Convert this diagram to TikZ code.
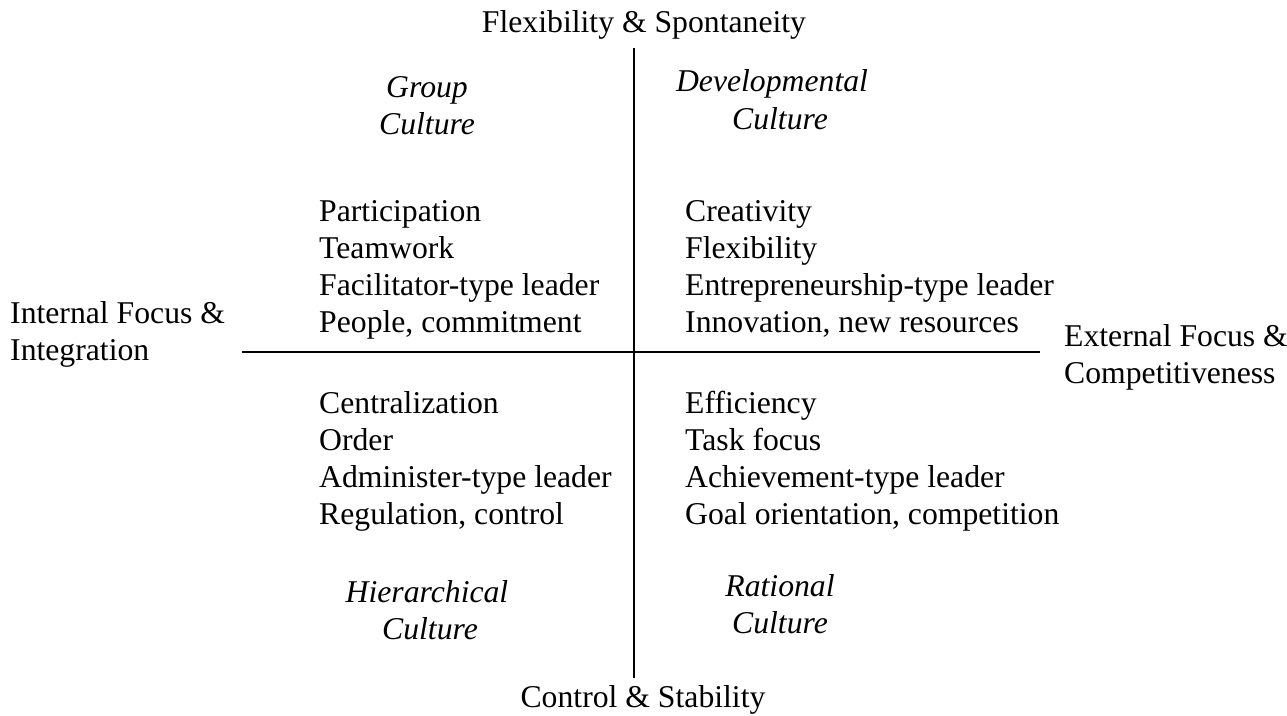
\documentclass[tikz,border=0pt]{standalone}
\usepackage{fontspec}
\setmainfont{Liberation Serif}
\begin{document}
\begin{tikzpicture}[x=1pt,y=-1pt,
  lbl/.style={inner sep=0pt,font=\fontsize{31.7}{37}\selectfont},
  item/.style={lbl,anchor=base west},
  axis/.style={lbl,anchor=base},
  culture/.style={lbl,anchor=base,font=\fontsize{31.7}{37}\selectfont\itshape},
  vaxis/.style={line width=1.8pt},
  haxis/.style={line width=2.6pt}]
\useasboundingbox (0,0) rectangle (1287,715);

% axes
\coordinate (top) at (634,48);
\coordinate (bottom) at (634,678);
\coordinate (left) at (242,352);
\coordinate (right) at (1040,352);
\draw[vaxis] (top) -- (bottom);
\draw[haxis] (left) -- (right);

% axis labels
\node[axis] (flex) at (644,32) {Flexibility \& Spontaneity};
\node[axis] (ctrl) at (643,707) {Control \& Stability};
\node[item] (int1) at (10,323) {Internal Focus \&};
\node[item] (int2) at (10,360) {Integration};
\node[item] (ext1) at (1064,346) {External Focus \&};
\node[item] (ext2) at (1064,383) {Competitiveness};

% culture names
\node[culture] (grp1) at (427,97) {Group};
\node[culture] (grp2) at (427,134) {Culture};
\node[culture] (dev1) at (772,91) {Developmental};
\node[culture] (dev2) at (780,129) {Culture};
\node[culture] (hie1) at (427,602) {Hierarchical};
\node[culture] (hie2) at (430,639) {Culture};
\node[culture] (rat1) at (780,596) {Rational};
\node[culture] (rat2) at (780,633) {Culture};

% upper left
\node[item] (ul1) at (319,221) {Participation};
\node[item] (ul2) at (319,258) {Teamwork};
\node[item] (ul3) at (319,295) {Facilitator-type leader};
\node[item] (ul4) at (319,332) {People, commitment};

% upper right
\node[item] (ur1) at (685,221) {Creativity};
\node[item] (ur2) at (685,258) {Flexibility};
\node[item] (ur3) at (685,295) {Entrepreneurship-type leader};
\node[item] (ur4) at (685,332) {Innovation, new resources};

% lower left
\node[item] (ll1) at (319,413) {Centralization};
\node[item] (ll2) at (319,450) {Order};
\node[item] (ll3) at (319,487) {Administer-type leader};
\node[item] (ll4) at (319,524) {Regulation, control};

% lower right
\node[item] (lr1) at (685,413) {Efficiency};
\node[item] (lr2) at (685,450) {Task focus};
\node[item] (lr3) at (685,487) {Achievement-type leader};
\node[item] (lr4) at (685,524) {Goal orientation, competition};
\end{tikzpicture}
\end{document}
